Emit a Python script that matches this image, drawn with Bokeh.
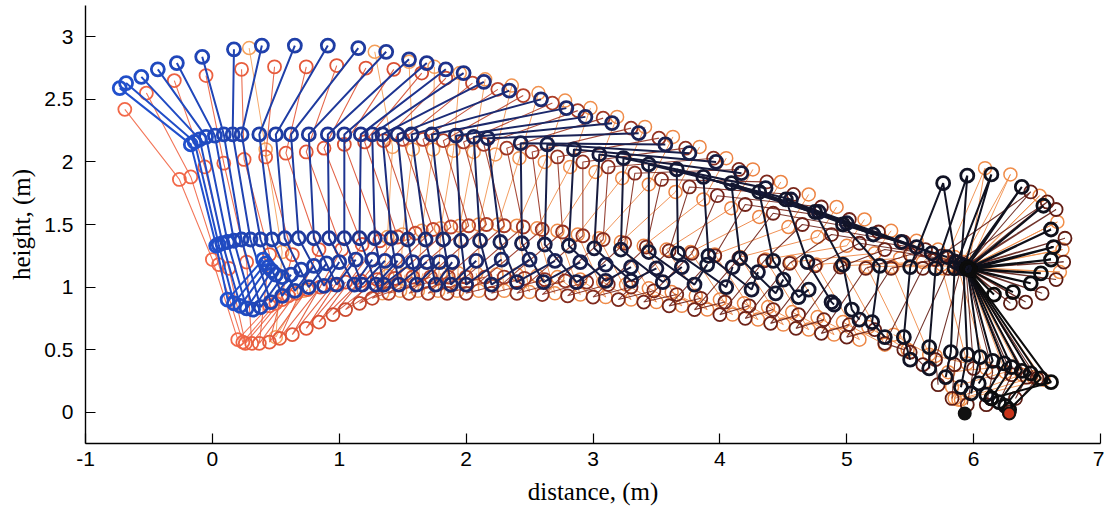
from bokeh.plotting import figure
from bokeh.models import Range1d, FixedTicker
from bokeh.embed import file_html
from bokeh.resources import INLINE

# ---------------- data: blue/black trajectory (thick) ----------------
BL_HAND_X = [-0.73,-0.68,-0.56,-0.43,-0.28,-0.08,0.17,0.39,0.65,0.91,1.15,1.37,1.55,1.69,1.84,1.98,2.14,2.34,2.59,2.79,2.94,3.15,3.36,3.57,3.76,3.97,4.17,4.36,4.56,4.78,5.00,5.21,5.43,5.55,5.67,5.79,
             5.86,5.90,5.93,5.95,5.96,5.97,5.97,5.97,5.97,5.97,5.97,5.97]
BL_HAND_Y = [2.59,2.63,2.68,2.74,2.79,2.84,2.90,2.93,2.93,2.93,2.91,2.88,2.82,2.79,2.74,2.71,2.64,2.57,2.50,2.43,2.36,2.31,2.23,2.14,2.07,2.00,1.91,1.79,1.70,1.60,1.51,1.42,1.36,1.32,1.27,1.24,
             1.20,1.18,1.17,1.16,1.15,1.15,1.14,1.14,1.14,1.14,1.14,1.14]
BL_SHO_X = [-0.17,-0.14,-0.10,-0.05,0.02,0.09,0.16,0.23,0.37,0.50,0.62,0.76,0.91,1.04,1.17,1.26,1.34,1.46,1.57,1.73,1.92,2.06,2.17,2.43,2.64,2.85,3.05,3.24,3.44,3.66,3.87,4.09,4.31,4.52,4.75,4.97,
            5.76,5.95,6.14,6.38,6.55,6.61,6.63,6.61,6.53,6.45,6.31,6.16]
BL_SHO_Y = [2.14,2.16,2.18,2.20,2.21,2.22,2.22,2.22,2.22,2.22,2.22,2.22,2.22,2.22,2.22,2.22,2.22,2.22,2.22,2.22,2.21,2.20,2.19,2.15,2.14,2.10,2.06,2.03,1.98,1.94,1.88,1.83,1.76,1.70,1.60,1.50,
            1.83,1.89,1.90,1.80,1.65,1.46,1.32,1.22,1.11,1.03,0.96,0.94]
BL_HIP_X = [0.03,0.05,0.08,0.12,0.17,0.23,0.30,0.38,0.47,0.57,0.68,0.80,0.92,1.04,1.16,1.28,1.41,1.54,1.68,1.82,1.96,2.11,2.27,2.44,2.62,2.81,3.01,3.22,3.44,3.67,3.91,4.16,4.42,4.69,4.97,5.26,
            5.50,5.70,5.85,5.92,5.95,5.95,5.95,5.95,5.95,5.95,5.95,5.95]
BL_HIP_Y = [1.33,1.34,1.35,1.36,1.37,1.38,1.38,1.38,1.38,1.39,1.39,1.39,1.39,1.39,1.39,1.39,1.39,1.38,1.38,1.38,1.37,1.37,1.36,1.35,1.34,1.33,1.31,1.30,1.28,1.27,1.25,1.23,1.21,1.20,1.18,1.17,
            1.16,1.15,1.15,1.15,1.15,1.15,1.15,1.15,1.15,1.15,1.15,1.15]
BL_KNEE_X = [0.12,0.17,0.22,0.27,0.32,0.38,0.46,0.55,0.65,0.76,0.88,0.98,1.12,1.18,1.29,1.35,1.47,1.61,1.76,1.88,2.00,2.20,2.40,2.61,2.87,3.10,3.30,3.55,3.80,4.05,4.25,4.44,4.62,4.88,5.04,5.20,
             5.45,5.65,5.82,5.95,6.05,6.15,6.24,6.30,6.38,6.45,6.53,6.61]
BL_KNEE_Y = [0.90,0.87,0.85,0.83,0.82,0.84,0.88,0.93,0.97,1.00,1.01,1.02,1.02,1.02,1.02,1.02,1.02,1.02,1.02,1.02,1.02,1.02,1.04,1.04,1.04,1.05,1.05,1.04,1.02,1.00,0.98,0.95,0.92,0.88,0.82,0.72,
             0.60,0.52,0.48,0.46,0.44,0.41,0.39,0.36,0.33,0.31,0.27,0.24]
BL_FOOT_X = [0.40,0.42,0.44,0.47,0.50,0.55,0.62,0.70,0.80,0.90,1.00,1.13,1.26,1.36,1.46,1.58,1.69,1.79,1.89,2.08,2.28,2.50,2.70,2.90,3.10,3.30,3.50,3.70,3.90,4.10,4.30,4.50,4.70,4.90,5.10,5.30,
             5.50,5.65,5.78,5.90,5.98,6.04,6.10,6.14,6.20,6.25,6.28,6.14]
BL_FOOT_Y = [1.22,1.19,1.16,1.13,1.10,1.08,1.10,1.14,1.17,1.19,1.20,1.22,1.22,1.21,1.21,1.20,1.20,1.20,1.20,1.21,1.22,1.22,1.21,1.20,1.18,1.16,1.15,1.16,1.18,1.16,1.12,1.06,0.98,0.86,0.74,0.60,
             0.42,0.35,0.28,0.20,0.15,0.23,0.14,0.11,0.08,0.05,0.02,0.11]

# ---------------- data: red/brown trajectory (thin) ----------------
OR_HAND_X = [-0.69,-0.52,-0.30,-0.05,0.23,0.49,0.74,0.98,1.21,1.43,1.65,1.84,2.05,2.25,2.45,2.68,2.88,3.08,3.30,3.52,3.73,3.95,4.15,4.37,4.58,4.80,5.02,5.25,5.45,5.62,5.75,5.85,5.90,5.93,
             5.94,5.94,5.94,5.94,5.94,5.94,5.94,5.94,5.94]
OR_HAND_Y = [2.42,2.55,2.65,2.69,2.74,2.76,2.76,2.77,2.75,2.74,2.71,2.67,2.63,2.58,2.53,2.47,2.41,2.35,2.27,2.19,2.11,2.03,1.94,1.84,1.74,1.64,1.54,1.44,1.36,1.30,1.25,1.21,1.19,1.17,
             1.16,1.16,1.16,1.16,1.16,1.16,1.16,1.16,1.16]
OR_SHO_X = [-0.26,-0.17,-0.06,0.09,0.25,0.42,0.58,0.74,0.88,1.04,1.20,1.35,1.50,1.66,1.82,1.98,2.14,2.32,2.52,2.72,2.92,3.12,3.33,3.54,3.76,3.98,4.20,4.42,4.65,4.88,5.10,5.30,5.50,5.70,
            6.45,6.58,6.65,6.72,6.71,6.65,6.54,6.41,6.29]
OR_SHO_Y = [1.86,1.88,1.96,1.99,2.02,2.04,2.07,2.08,2.11,2.14,2.16,2.17,2.18,2.18,2.17,2.16,2.14,2.11,2.08,2.04,2.00,1.96,1.91,1.86,1.80,1.73,1.66,1.59,1.50,1.42,1.35,1.30,1.26,1.22,
            1.76,1.68,1.62,1.39,1.20,1.06,0.95,0.88,0.87]
OR_HIP_X = [0.00,0.05,0.13,0.27,0.45,0.63,0.84,1.02,1.18,1.32,1.46,1.60,1.74,1.88,2.02,2.16,2.30,2.45,2.60,2.76,2.92,3.08,3.25,3.42,3.60,3.78,3.96,4.15,4.35,4.55,4.75,4.95,5.15,5.35,
            5.60,5.80,5.90,5.94,5.94,5.94,5.94,5.94,5.94]
OR_HIP_Y = [1.22,1.18,1.15,1.20,1.26,1.26,1.30,1.30,1.34,1.37,1.40,1.43,1.46,1.48,1.49,1.50,1.49,1.48,1.46,1.44,1.41,1.38,1.35,1.32,1.29,1.27,1.25,1.23,1.21,1.19,1.17,1.16,1.15,1.15,
            1.15,1.15,1.15,1.15,1.15,1.15,1.15,1.15,1.15]
OR_KNEE_X = [0.20,0.24,0.26,0.31,0.37,0.45,0.53,0.63,0.74,0.84,0.95,1.05,1.16,1.26,1.39,1.55,1.70,1.85,2.00,2.20,2.40,2.60,2.80,3.00,3.20,3.40,3.60,3.80,4.00,4.20,4.40,4.60,4.80,5.00,
             5.30,5.50,5.70,5.85,6.00,6.15,6.30,6.42,6.50]
OR_KNEE_Y = [0.58,0.56,0.55,0.55,0.55,0.56,0.59,0.62,0.67,0.72,0.78,0.82,0.87,0.91,0.95,0.95,0.95,0.95,0.95,0.95,0.95,0.94,0.93,0.92,0.90,0.88,0.85,0.82,0.78,0.75,0.71,0.67,0.63,0.60,
             0.55,0.48,0.42,0.38,0.35,0.32,0.30,0.28,0.27]
OR_FOOT_X = [0.45,0.50,0.55,0.60,0.66,0.75,0.85,0.95,1.05,1.17,1.30,1.44,1.58,1.72,1.86,2.00,2.15,2.30,2.46,2.62,2.78,2.95,3.12,3.30,3.48,3.66,3.85,4.04,4.23,4.42,4.62,4.82,5.02,5.22,
             5.45,5.60,5.72,5.83,5.95,6.10,6.20,6.33,6.28]
OR_FOOT_Y = [0.85,0.87,0.90,0.93,0.95,0.98,1.00,1.02,1.04,1.05,1.06,1.07,1.08,1.08,1.08,1.08,1.08,1.08,1.07,1.06,1.05,1.04,1.02,1.00,0.97,0.94,0.91,0.88,0.85,0.82,0.78,0.74,0.70,0.66,
             0.50,0.38,0.22,0.11,0.06,0.06,0.08,0.11,0.00]

# ---------------- data: light orange trajectory (thin, mostly hidden) ----------------
AM_HAND_X = [0.29,1.28,1.55,1.75,1.95,2.15,2.36,2.57,2.78,2.98,3.19,3.41,3.63,3.84,4.05,4.26,4.48,4.70,4.92,5.14,5.35,5.55,5.72,5.85,5.92,
             5.96,5.96,5.96,5.96,5.96,5.96]
AM_HAND_Y = [2.91,2.88,2.80,2.76,2.71,2.66,2.61,2.55,2.49,2.43,2.36,2.28,2.20,2.12,2.03,1.94,1.84,1.74,1.64,1.54,1.45,1.37,1.30,1.24,1.20,
             1.16,1.16,1.16,1.16,1.16,1.16]
AM_SHO_X = [0.42,1.42,1.58,1.74,1.90,2.06,2.23,2.42,2.62,2.82,3.02,3.23,3.44,3.65,3.87,4.09,4.31,4.54,4.77,5.00,5.22,5.42,5.60,5.75,5.85,
            6.09,6.29,6.52,6.66,6.70,6.68]
AM_SHO_Y = [2.10,2.12,2.10,2.10,2.09,2.08,2.06,2.03,2.00,1.96,1.92,1.87,1.82,1.76,1.70,1.63,1.56,1.48,1.40,1.33,1.27,1.23,1.20,1.18,1.17,
            1.95,1.90,1.73,1.52,1.30,1.12]
AM_HIP_X = [0.55,1.38,1.50,1.65,1.80,1.95,2.10,2.25,2.40,2.56,2.72,2.88,3.05,3.22,3.40,3.58,3.77,3.96,4.16,4.36,4.56,4.76,4.96,5.16,5.36,
            5.75,5.88,5.94,5.94,5.94,5.94]
AM_HIP_Y = [1.28,1.40,1.42,1.45,1.47,1.49,1.50,1.50,1.49,1.47,1.45,1.42,1.39,1.36,1.33,1.30,1.28,1.26,1.24,1.22,1.20,1.18,1.17,1.16,1.16,
            1.15,1.15,1.15,1.15,1.15,1.15]
AM_KNEE_X = [0.50,1.34,1.48,1.62,1.78,1.93,2.10,2.30,2.50,2.70,2.90,3.10,3.30,3.50,3.70,3.90,4.10,4.30,4.50,4.70,4.90,5.10,5.30,5.48,5.65,
             5.95,6.10,6.25,6.38,6.47,6.55]
AM_KNEE_Y = [0.60,0.95,0.97,0.97,0.97,0.97,0.97,0.97,0.96,0.95,0.94,0.92,0.90,0.88,0.85,0.82,0.78,0.74,0.70,0.66,0.62,0.58,0.54,0.50,0.46,
             0.39,0.35,0.32,0.30,0.28,0.26]
AM_FOOT_X = [0.72,1.38,1.52,1.66,1.80,1.94,2.08,2.24,2.40,2.56,2.72,2.90,3.08,3.26,3.44,3.62,3.81,4.00,4.19,4.38,4.57,4.77,4.97,5.17,5.37,
             5.70,5.80,5.83,5.85,5.88,5.90]
AM_FOOT_Y = [0.97,1.09,1.10,1.11,1.11,1.11,1.11,1.10,1.10,1.09,1.08,1.06,1.04,1.02,0.99,0.96,0.93,0.90,0.87,0.84,0.80,0.76,0.72,0.68,0.62,
             0.45,0.32,0.20,0.11,0.10,0.10]

# final ground contacts (filled)
CONTACT_X = [5.93, 6.28]
CONTACT_Y = [-0.01, -0.01]

X_TICKS = [-1, 0, 1, 2, 3, 4, 5, 6, 7]
X_LABELS = {-1: "-1", 0: "0", 1: "1", 2: "2", 3: "3", 4: "4", 5: "5", 6: "6", 7: "7"}
Y_TICKS = [0, 0.5, 1, 1.5, 2, 2.5, 3]


def lerp_color(stops, t):
    for (t0, c0), (t1, c1) in zip(stops[:-1], stops[1:]):
        if t <= t1:
            u = 0 if t1 == t0 else (t - t0) / (t1 - t0)
            c = [round(a + (b - a) * u) for a, b in zip(c0, c1)]
            return "#%02x%02x%02x" % tuple(c)
    return "#%02x%02x%02x" % tuple(stops[-1][1])


def series(joints_x, joints_y, stops):
    n = len(joints_x[0])
    xs, ys, cols, px, py, pc = [], [], [], [], [], []
    for i in range(n):
        t = i / (n - 1)
        c = lerp_color(stops, t)
        fx = [j[i] for j in joints_x]
        fy = [j[i] for j in joints_y]
        xs.append(fx); ys.append(fy); cols.append(c)
        px += fx; py += fy; pc += [c] * len(fx)
    return xs, ys, cols, px, py, pc


BLUE_STOPS = [(0.0, (33, 80, 205)), (0.3, (30, 50, 140)), (0.55, (22, 26, 60)), (1.0, (12, 12, 12))]
ORANGE_STOPS = [(0.0, (242, 104, 72)), (0.2, (222, 82, 52)), (0.4, (160, 55, 36)), (0.6, (115, 36, 26)), (1.0, (88, 26, 18))]
AMBER_STOPS = [(0.0, (245, 160, 90)), (0.5, (236, 130, 66)), (1.0, (242, 145, 75))]

p = figure(width=1104, height=511, output_backend="svg", toolbar_location=None,
           x_range=Range1d(-1, 7), y_range=Range1d(-0.25, 3.25),
           min_border_left=85, min_border_right=4, min_border_top=5, min_border_bottom=68)
p.outline_line_color = None
p.grid.visible = False
p.background_fill_color = "white"

axs, ays, acols, apx, apy, apc = series(
    [AM_HAND_X, AM_SHO_X, AM_HIP_X, AM_KNEE_X, AM_FOOT_X],
    [AM_HAND_Y, AM_SHO_Y, AM_HIP_Y, AM_KNEE_Y, AM_FOOT_Y], AMBER_STOPS)
p.multi_line(axs, ays, line_color=acols, line_width=1.0, line_alpha=0.9)
p.scatter(apx, apy, marker="circle", size=13, fill_color=None, line_color=apc, line_width=1.5)

oxs, oys, ocols, opx, opy, opc = series(
    [OR_HAND_X, OR_SHO_X, OR_HIP_X, OR_KNEE_X, OR_FOOT_X],
    [OR_HAND_Y, OR_SHO_Y, OR_HIP_Y, OR_KNEE_Y, OR_FOOT_Y], ORANGE_STOPS)
p.multi_line(oxs, oys, line_color=ocols, line_width=1.1, line_alpha=0.9)
p.scatter(opx, opy, marker="circle", size=13, fill_color=None, line_color=opc, line_width=1.8)

bxs, bys, bcols, bpx, bpy, bpc = series(
    [BL_HAND_X, BL_SHO_X, BL_HIP_X, BL_KNEE_X, BL_FOOT_X],
    [BL_HAND_Y, BL_SHO_Y, BL_HIP_Y, BL_KNEE_Y, BL_FOOT_Y], BLUE_STOPS)
p.multi_line(bxs, bys, line_color=bcols, line_width=2.0)
p.scatter(bpx, bpy, marker="circle", size=13, fill_color=None, line_color=bpc, line_width=2.8)

p.scatter(CONTACT_X, CONTACT_Y, marker="circle", size=12, fill_color=["#111111", "#c8341a"],
          line_color="#111111", line_width=2)

for ax in (p.xaxis[0], p.yaxis[0]):
    ax.axis_line_color = "black"
    ax.axis_line_width = 1.4
    ax.major_tick_in = 10
    ax.major_tick_out = 0
    ax.minor_tick_in = 0
    ax.minor_tick_out = 0
    ax.major_tick_line_color = "black"
    ax.major_tick_line_width = 1.2
    ax.major_label_text_font = "Liberation Sans"
    ax.major_label_text_font_size = "21px"
    ax.major_label_text_color = "black"
    ax.axis_label_text_font = "Liberation Serif"
    ax.axis_label_text_font_size = "25px"
    ax.axis_label_text_font_style = "normal"
    ax.axis_label_text_color = "black"

p.xaxis[0].ticker = FixedTicker(ticks=X_TICKS)
p.yaxis[0].ticker = FixedTicker(ticks=Y_TICKS)
p.xaxis[0].major_label_overrides = X_LABELS
p.xaxis[0].major_label_standoff = 8
p.yaxis[0].major_label_standoff = 12
p.xaxis[0].axis_label = "distance, (m)"
p.yaxis[0].axis_label = "height, (m)"
p.xaxis[0].axis_label_standoff = 9
p.yaxis[0].axis_label_standoff = 6

open("out.html", "w").write(file_html(p, INLINE))
